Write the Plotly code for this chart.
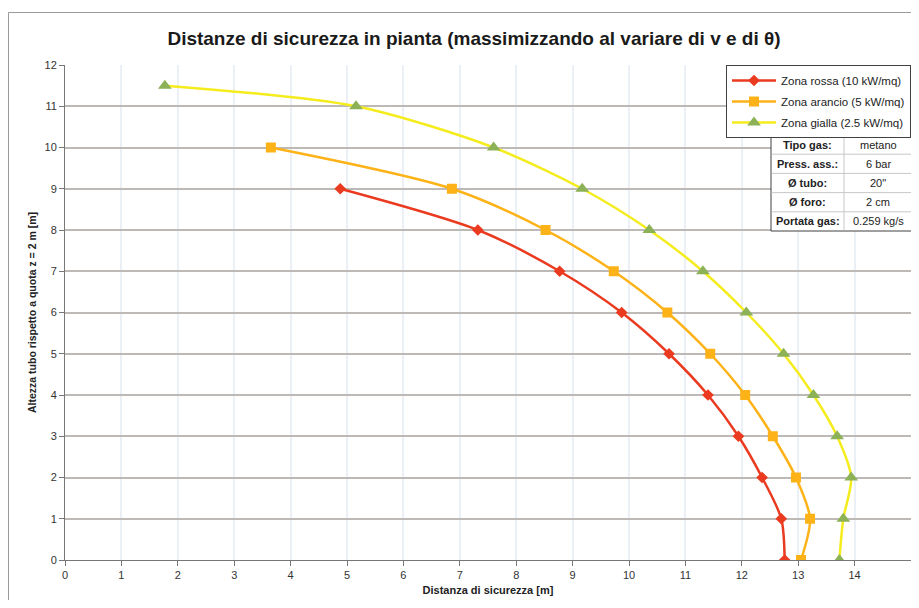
import plotly.graph_objects as go

# ---- data ----
red_x = [4.88, 7.32, 8.77, 9.87, 10.71, 11.40, 11.94, 12.36, 12.70, 12.76]
red_y = [9, 8, 7, 6, 5, 4, 3, 2, 1, 0]
orange_x = [3.65, 6.86, 8.52, 9.73, 10.68, 11.44, 12.06, 12.55, 12.96, 13.21, 13.05]
orange_y = [10, 9, 8, 7, 6, 5, 4, 3, 2, 1, 0]
yellow_x = [1.77, 5.16, 7.60, 9.17, 10.36, 11.31, 12.08, 12.74, 13.27, 13.69, 13.94, 13.80, 13.73]
yellow_y = [11.5, 11, 10, 9, 8, 7, 6, 5, 4, 3, 2, 1, 0]
series_names = ["Zona rossa (10 kW/mq)", "Zona arancio (5 kW/mq)", "Zona gialla (2.5 kW/mq)"]

table_labels = ["Tipo gas:", "Press. ass.:", "Ø tubo:", "Ø foro:", "Portata gas:"]
table_values = ["metano", "6 bar", "20\"", "2 cm", "0.259 kg/s"]

x_ticks = list(range(0, 16))
y_ticks = list(range(0, 13))

FONT = "Liberation Sans Narrow, Arial Narrow, Liberation Sans, Arial, sans-serif"

fig = go.Figure()
fig.add_trace(go.Scatter(
    x=red_x, y=red_y, name=series_names[0], mode="lines+markers", legendgroup="r",
    line=dict(color="#ea3a1f", width=2.5, shape="spline", smoothing=0.8),
    marker=dict(symbol="diamond", size=9, color="#ea3a1f")))
fig.add_trace(go.Scatter(
    x=orange_x, y=orange_y, name=series_names[1], mode="lines+markers", legendgroup="o",
    line=dict(color="#fdb217", width=2.5, shape="spline", smoothing=0.8),
    marker=dict(symbol="square", size=10, color="#fdb217")))
fig.add_trace(go.Scatter(
    x=yellow_x, y=yellow_y, name=series_names[2], mode="lines+markers", legendgroup="y",
    line=dict(color="#f4ec1c", width=2.5, shape="spline", smoothing=0.8),
    marker=dict(symbol="triangle-up", size=12, color="#8cb157")))

# page offset (body margin of the html page)
OFF = 8
W, H = 903, 592
ml, mr, mt, mb = 57, 0, 57, 40
pw = W - ml - mr
ph = H - mt - mb


def px_x(p):
    # p: pixel position on the page
    return (p - OFF - ml) / pw


def px_y(p):
    return 1 - (p - OFF - mt) / ph


shapes = []
annotations = []

# outer chart frame
shapes.append(dict(type="rect", xref="paper", yref="paper",
                   x0=px_x(8.5), x1=px_x(960), y0=px_y(660), y1=px_y(12.5),
                   line=dict(color="#9a9a9a", width=1), fillcolor="rgba(0,0,0,0)", layer="below"))

# parameter table
tx0, tx1, txm = 771, 912, 844
ty0, ty1 = 135, 231
rh = (ty1 - ty0) / len(table_labels)
shapes.append(dict(type="rect", xref="paper", yref="paper", layer="above",
                   x0=px_x(tx0), x1=px_x(tx1), y0=px_y(ty1), y1=px_y(ty0),
                   line=dict(color="#404040", width=1), fillcolor="#ffffff"))
shapes.append(dict(type="line", xref="paper", yref="paper", layer="above",
                   x0=px_x(txm), x1=px_x(txm), y0=px_y(ty1 - 0.5), y1=px_y(ty0 + 0.5),
                   line=dict(color="#c8c8c8", width=1)))
for i in range(1, len(table_labels)):
    yy = ty0 + i * rh
    shapes.append(dict(type="line", xref="paper", yref="paper", layer="above",
                       x0=px_x(tx0 + 0.5), x1=px_x(tx1 - 0.5), y0=px_y(yy), y1=px_y(yy),
                       line=dict(color="#c8c8c8", width=1)))
for i, (lab, val) in enumerate(zip(table_labels, table_values)):
    yc = ty0 + (i + 0.5) * rh
    annotations.append(dict(xref="paper", yref="paper", x=px_x((tx0 + txm) / 2), y=px_y(yc),
                            xanchor="center", yanchor="middle",
                            text="<b>" + lab + "</b>", showarrow=False,
                            font=dict(family=FONT, size=11, color="#222")))
    annotations.append(dict(xref="paper", yref="paper", x=px_x((txm + tx1) / 2), y=px_y(yc),
                            xanchor="center", yanchor="middle",
                            text=val, showarrow=False,
                            font=dict(family=FONT, size=11, color="#222")))

fig.update_layout(
    width=W, height=H,
    margin=dict(l=ml, r=mr, t=mt, b=mb, autoexpand=False),
    paper_bgcolor="white", plot_bgcolor="white",
    font=dict(family=FONT, size=11, color="#333"),
    title=dict(text="<b>Distanze di sicurezza in pianta (massimizzando al variare di v e di θ)</b>",
               x=(474 - OFF) / W, xanchor="center", y=1 - (38 - OFF) / H, yanchor="middle",
               font=dict(family=FONT, size=19, color="#1a1a1a")),
    showlegend=True,
    legend=dict(x=1.0, xanchor="right", y=1.0, yanchor="top",
                bgcolor="white", bordercolor="#404040", borderwidth=1,
                font=dict(family=FONT, size=11.5, color="#222"),
                itemwidth=44, tracegroupgap=2),
    xaxis=dict(range=[0, 15], tickvals=x_ticks, ticks="outside", ticklen=5, tickcolor="#777",
               showline=True, linecolor="#777", linewidth=1,
               showgrid=True, gridcolor="#ebeff6", gridwidth=1.5, zeroline=False,
               tickfont=dict(size=11, color="#333"),
               title=dict(text="<b>Distanza di sicurezza [m]</b>", font=dict(size=11, color="#222"), standoff=6)),
    yaxis=dict(range=[0, 12], tickvals=y_ticks, ticks="outside", ticklen=5, tickcolor="#777",
               showline=True, linecolor="#777", linewidth=1,
               showgrid=True, gridcolor="#bcb9b6", gridwidth=2, zeroline=False,
               tickfont=dict(size=11, color="#333"),
               title=dict(text="<b>Altezza tubo rispetto a quota z = 2 m [m]</b>", font=dict(size=10.5, color="#222"), standoff=5)),
    shapes=shapes,
    annotations=annotations,
)

fig.write_html("out.html")
